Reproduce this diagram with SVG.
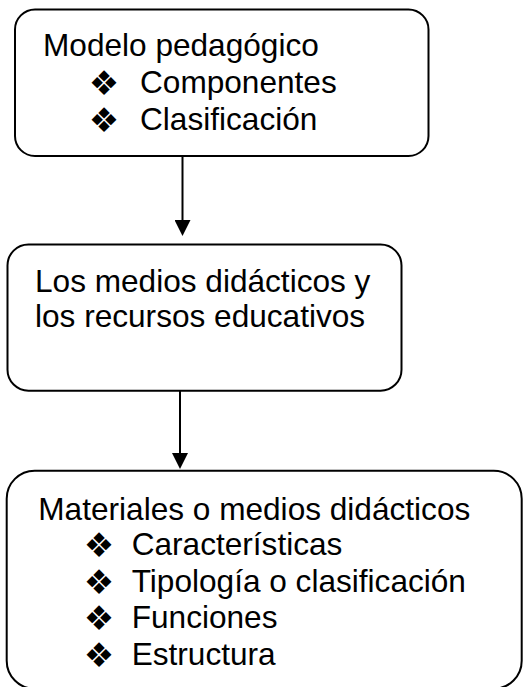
<svg xmlns="http://www.w3.org/2000/svg" width="526" height="687" viewBox="0 0 526 687">
  <style>
    .box { fill: #ffffff; stroke: #000000; stroke-width: 2; }
    .txt { font-family: "Liberation Sans", Arial, sans-serif; font-size: 31.6px; fill: #000000; }
    .bul { font-family: "DejaVu Sans", sans-serif; font-size: 34px; fill: #000000; text-anchor: middle; }
    .conn { stroke: #000000; stroke-width: 2; fill: none; marker-end: url(#arrow); }
  </style>
  <defs>
    <marker id="arrow" viewBox="0 0 16 16" markerWidth="16" markerHeight="16" markerUnits="userSpaceOnUse" refX="0" refY="8" orient="auto">
      <path d="M0,0 L16,8 L0,16 z" fill="#000000"/>
    </marker>
  </defs>
  <rect width="526" height="687" fill="#ffffff"/>
  <g id="connectors">
    <line class="conn" x1="182.5" y1="156" x2="182.5" y2="220"/>
    <line class="conn" x1="180" y1="391" x2="180" y2="453"/>
  </g>
  <g id="node-modelo">
    <rect class="box" x="15" y="9.5" width="413.5" height="146.5" rx="20" ry="20"/>
    <text class="txt" x="43" y="56">Modelo pedagógico</text>
    <text class="bul" x="104" y="95">❖</text>
    <text class="txt" x="140" y="93">Componentes</text>
    <text class="bul" x="104" y="132">❖</text>
    <text class="txt" x="140" y="130">Clasificación</text>
  </g>
  <g id="node-medios">
    <rect class="box" x="7.5" y="244.5" width="394" height="146.2" rx="21" ry="21"/>
    <text class="txt" x="35" y="292">Los medios didácticos y</text>
    <text class="txt" x="35" y="327">los recursos educativos</text>
  </g>
  <g id="node-materiales">
    <rect class="box" x="6.7" y="470.7" width="515" height="218" rx="28" ry="28"/>
    <text class="txt" x="38.3" y="520">Materiales o medios didácticos</text>
    <text class="bul" x="99" y="557">❖</text>
    <text class="txt" x="131.7" y="555">Características</text>
    <text class="bul" x="99" y="593.5">❖</text>
    <text class="txt" x="131.7" y="591.5">Tipología o clasificación</text>
    <text class="bul" x="99" y="630">❖</text>
    <text class="txt" x="131.7" y="628">Funciones</text>
    <text class="bul" x="99" y="667">❖</text>
    <text class="txt" x="131.7" y="665">Estructura</text>
  </g>
</svg>
